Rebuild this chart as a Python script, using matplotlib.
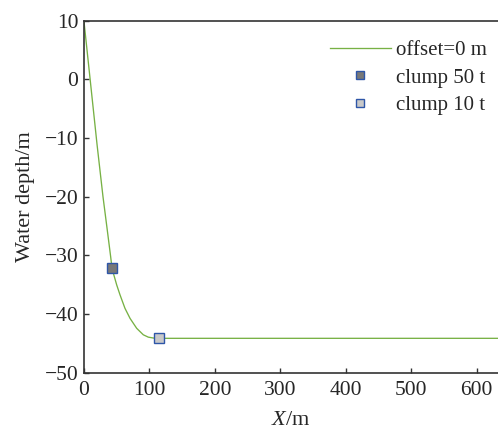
import matplotlib.pyplot as plt

plt.rcParams["font.family"] = ["Liberation Serif", "DejaVu Serif"]
plt.rcParams["mathtext.fontset"] = "custom"
plt.rcParams["mathtext.it"] = "Liberation Serif:italic"
plt.rcParams["mathtext.rm"] = "Liberation Serif"

# mooring line profile, offset = 0 m
line_x = [0, 10, 20, 29, 35, 40.7, 42.7, 44.8, 49.9, 55, 62.6, 70.3, 80.5, 90.6, 98.2,
          106, 115, 633]
line_y = [9.8, -0.7, -11.2, -20.0, -25.2, -30.2, -32.1, -33.0, -35.0, -36.7, -39.0, -40.7,
          -42.4, -43.5, -43.9, -44.05, -44.1, -44.1]

# clump weights attached to the line
clump50_x = [42.7]
clump50_y = [-32.1]
clump10_x = [115]
clump10_y = [-44.1]

x_ticks = [0, 100, 200, 300, 400, 500, 600]
y_ticks = [10, 0, -10, -20, -30, -40, -50]

text_color = "#262626"
spine_color = "#333333"

fig = plt.figure(figsize=(4.98, 4.30), dpi=100)
ax = fig.add_axes([0.1687, 0.1326, 0.8313, 0.8197])

ax.plot(line_x, line_y, color="#77b144", lw=0.95, label="offset=0 m", zorder=2)
ax.plot(clump50_x, clump50_y, ls="none", marker="s", ms=6.8, mfc="#787878",
        mec="#2e56a8", mew=1.0, label="clump 50 t", zorder=3)
ax.plot(clump10_x, clump10_y, ls="none", marker="s", ms=6.8, mfc="#c9c9c9",
        mec="#2e56a8", mew=1.0, label="clump 10 t", zorder=3)

ax.set_xlim(0, 632.5)
ax.set_ylim(-50, 10)
ax.set_xticks(x_ticks)
ax.set_yticks(y_ticks)

ax.tick_params(direction="in", length=3.5, width=1.0, colors=spine_color,
               labelcolor=text_color, labelsize=15.5)
ax.tick_params(axis="x", pad=6)
ax.tick_params(axis="y", pad=4)
for side in ["left", "bottom", "top"]:
    ax.spines[side].set_color(spine_color)
    ax.spines[side].set_linewidth(1.2)
ax.spines["right"].set_visible(False)

ax.set_xlabel(r"$X$/m", fontsize=16, color=text_color, labelpad=8)
ax.set_ylabel("Water depth/m", fontsize=16, color=text_color, labelpad=7)

leg = ax.legend(loc="upper right", bbox_to_anchor=(0.978, 0.905),
                bbox_transform=fig.transFigure, frameon=False, fontsize=15,
                handlelength=2.93, handletextpad=0.25, labelspacing=0.37,
                markerscale=0.75, borderaxespad=0, borderpad=0)
for t in leg.get_texts():
    t.set_color(text_color)

fig.savefig("out.png", dpi=100)
